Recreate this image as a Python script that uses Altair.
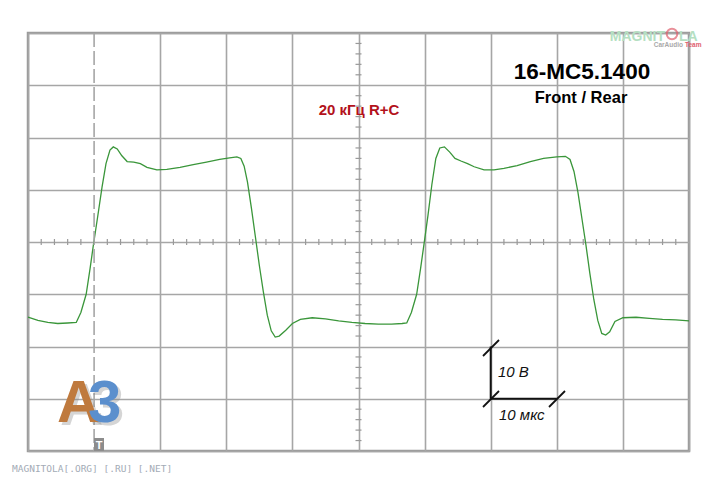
import altair as alt
import pandas as pd

# ---- data (time in µs, 10 µs/div; voltage in V, 10 V/div) ----
t_us = [0, 1.5, 3, 4.5, 6, 7.3, 8.0, 8.8, 9.4, 9.9, 10.5, 11.2, 11.8, 12.4, 12.9, 13.5,
        14.2, 15.0, 16.0, 17.0, 18.0, 19.5, 21.0, 23.0, 25.0, 27.0, 29.0, 30.5, 31.6,
        32.2, 32.7, 33.2, 33.8, 34.4, 35.0, 35.6, 36.2, 36.8, 37.4, 38.0, 39.0, 40.0,
        41.2, 43, 45, 47, 49, 51, 53, 55, 56.6,
        57.3, 58.0, 58.8, 59.4, 59.9, 60.5, 61.1, 61.7, 62.3, 63.0, 63.8, 64.6, 65.5,
        66.5, 67.5, 69.0, 70.5, 72.0, 74.0, 76.0, 78.0, 80.0, 81.3, 82.0, 82.6, 83.2,
        83.8, 84.4, 85.0, 85.6, 86.2, 86.8, 87.4, 88.0, 88.8, 90.0, 92.0, 94.0, 96.0,
        98.0, 100.0]
v_volts = [-14.4, -15.0, -15.4, -15.6, -15.5, -15.4, -13.5, -10.0, -5.0, -0.5, 4.5, 10.5,
           15.0, 17.6, 18.2, 17.8, 16.5, 15.4, 15.3, 15.0, 14.3, 13.8, 13.9, 14.3, 14.8,
           15.3, 15.8, 16.1, 16.3, 16.0, 14.5, 11.5, 6.5, 1.0, -4.5, -9.5, -14.0, -17.0,
           -18.2, -18.0, -16.9, -15.6, -14.8, -14.5, -14.7, -15.1, -15.4, -15.6, -15.7,
           -15.7, -15.6,
           -15.5, -13.5, -10.0, -5.0, -0.5, 5.0, 11.0, 16.0, 18.0, 18.2, 17.2, 16.0, 15.5,
           15.0, 14.4, 13.8, 13.8, 14.1, 14.6, 15.4, 16.0, 16.3, 16.4, 15.8, 13.5, 9.5,
           4.5, -0.5, -6.0, -11.0, -15.0, -17.5, -17.8, -17.2, -15.2, -14.5, -14.4, -14.6,
           -14.8, -14.9, -15.1]

grid_x = [0, 20, 30, 40, 50, 60, 70, 80, 90, 100]
grid_y = [-40, -30, -20, -10, 0, 10, 20, 30, 40]
minor_t = [i * 2 for i in range(1, 50) if i % 5 != 0]
minor_v = [-40 + i * 2 for i in range(1, 40) if i % 5 != 0]

W, H = 661, 418
CX, CY = W / 2, H / 2

xs = alt.Scale(domain=[0, 100], nice=False, zero=False)
ys = alt.Scale(domain=[-40, 40], nice=False, zero=False)

wave = pd.DataFrame({"t": t_us, "v": v_volts})

line = alt.Chart(wave).mark_line(color="#3a963a", strokeWidth=1.3).encode(
    x=alt.X("t:Q", scale=xs,
            axis=alt.Axis(values=grid_x, labels=False, ticks=False, domain=False,
                          title=None, grid=True, gridColor="#a6a6a6", gridWidth=1.6)),
    y=alt.Y("v:Q", scale=ys,
            axis=alt.Axis(values=grid_y, labels=False, ticks=False, domain=False,
                          title=None, grid=True, gridColor="#a6a6a6", gridWidth=1.6)),
)

ticks_h = alt.Chart(pd.DataFrame({"t": minor_t})).mark_rule(color="#999", strokeWidth=1.2).encode(
    x=alt.X("t:Q", scale=xs), y=alt.value(CY - 3), y2=alt.value(CY + 3))
ticks_v = alt.Chart(pd.DataFrame({"v": minor_v})).mark_rule(color="#999", strokeWidth=1.2).encode(
    y=alt.Y("v:Q", scale=ys), x=alt.value(CX - 3), x2=alt.value(CX + 3))

cursor = alt.Chart(pd.DataFrame({"t": [10]})).mark_rule(
    color="#a6a6a6", strokeWidth=1.6, strokeDash=[14, 4]).encode(
    x=alt.X("t:Q", scale=xs), y=alt.value(0), y2=alt.value(H))

# scale bar
bar_v = alt.Chart(pd.DataFrame({"t": [70], "v": [-20], "v2": [-30]})).mark_rule(
    color="#111", strokeWidth=2).encode(
    x=alt.X("t:Q", scale=xs), y=alt.Y("v:Q", scale=ys), y2="v2:Q")
bar_h = alt.Chart(pd.DataFrame({"t": [70], "t2": [80], "v": [-30]})).mark_rule(
    color="#111", strokeWidth=2).encode(
    x=alt.X("t:Q", scale=xs), x2="t2:Q", y=alt.Y("v:Q", scale=ys))

def slash(cx, cy):
    return alt.Chart(pd.DataFrame({"a": [0]})).mark_rule(color="#111", strokeWidth=1.8).encode(
        x=alt.value(cx - 8), x2=alt.value(cx + 8), y=alt.value(cy + 8), y2=alt.value(cy - 8))

slashes = slash(463, 315) + slash(463, 366) + slash(529, 366)

def txt(s, x, y, size, color="#000", weight="normal", style="normal", font="Liberation Sans",
        align="left", opacity=1.0):
    return alt.Chart(pd.DataFrame({"s": [s]})).mark_text(
        text=s, fontSize=size, color=color, fontWeight=weight, fontStyle=style, font=font,
        align=align, baseline="alphabetic", opacity=opacity).encode(
        x=alt.value(x), y=alt.value(y))

texts = (
    txt("16-MC5.1400", 554, 46, 22.5, weight="bold", align="center")
    + txt("Front / Rear", 553, 70, 16.5, weight="bold", align="center")
    + txt("20 кГц  R+C", 331, 82, 15, color="#b3121b", weight="bold", align="center")
    + txt("10 В", 470, 344, 15, style="italic", color="#111")
    + txt("10 мкс", 471, 387, 15, style="italic", color="#111")
    + txt("MAGNITOLA[.ORG] [.RU] [.NET]", -16, 439, 9.5, color="#a3abb6", font="DejaVu Sans Mono")
)

# A3 logo
logo = (
    txt("A", 32, 392, 60, color="#888", weight="bold", opacity=0.35)
    + txt("3", 63, 392, 60, color="#888", weight="bold", opacity=0.35)
    + txt("A", 29, 389, 60, color="#bf7a3e", weight="bold")
    + txt("3", 60, 389, 60, color="#5b8fcd", weight="bold")
)

tbox = alt.Chart(pd.DataFrame({"a": [0]})).mark_rect(color="#8c8c8c").encode(
    x=alt.value(66), x2=alt.value(76), y=alt.value(405), y2=alt.value(418))
tletter = txt("T", 71, 416, 11, color="#fff", weight="bold", align="center")

# top-right site logo
ring = alt.Chart(pd.DataFrame({"a": [0]})).mark_point(
    shape="circle", filled=False, color="#e0606e", size=110, strokeWidth=2).encode(
    x=alt.value(644), y=alt.value(1))
site = (
    txt("MAGNIT", 637, 8, 14, color="#b5dfc2", weight="bold", align="right")
    + ring
    + txt("LA", 651, 8, 14, color="#b5dfc2", weight="bold")
    + txt("CarAudio", 655, 14, 6.5, color="#a9a9a9", weight="bold", align="right")
    + txt("Team", 657, 14, 6.5, color="#e0606e", weight="bold")
)

chart = alt.layer(
    line, ticks_h, ticks_v, cursor, bar_v, bar_h, slashes, texts, logo, tbox, tletter, site
).properties(
    width=W, height=H,
    padding={"left": 20, "top": 25, "right": 19, "bottom": 23},
    autosize=alt.AutoSizeParams(type="none"),
    background="white",
).configure_view(stroke="#9a9a9a", strokeWidth=2.5)

chart.save("out.html", embed_options={"renderer": "svg", "actions": False})
